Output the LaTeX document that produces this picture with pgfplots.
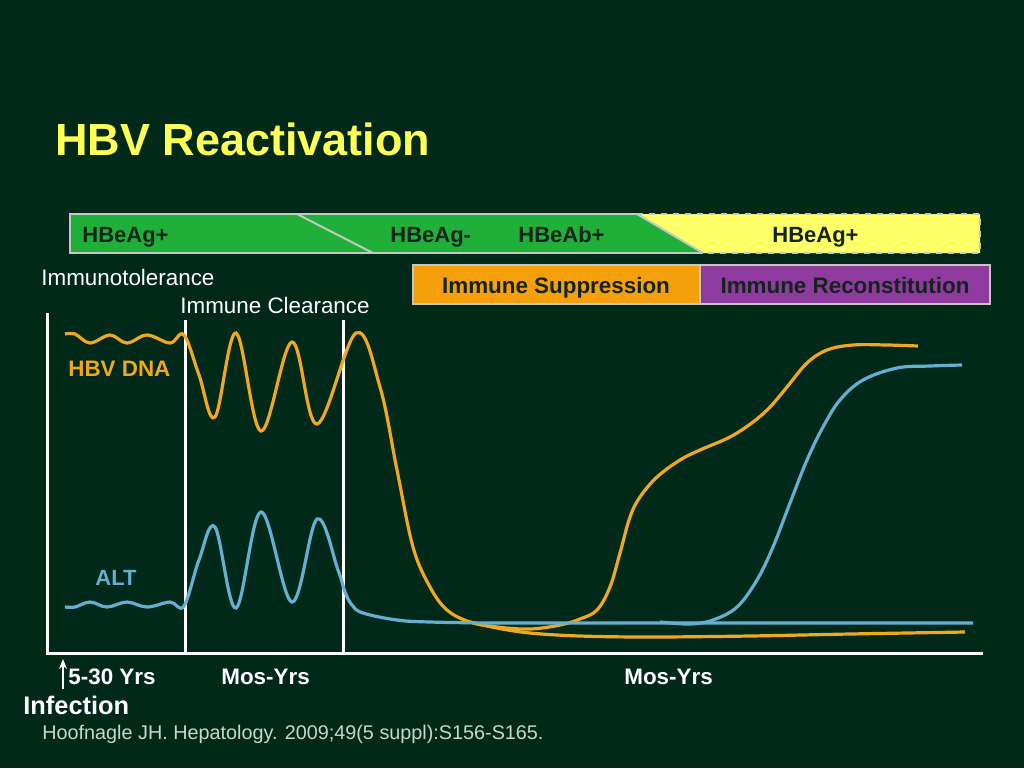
\documentclass[border=0pt]{standalone}
\usepackage{pgfplots}
\pgfplotsset{compat=1.18}
\usepackage{fontspec}
\setmainfont{Liberation Sans}
\usetikzlibrary{arrows.meta}
\definecolor{bg}{RGB}{0,41,26}
\definecolor{bargreen}{RGB}{32,176,58}
\definecolor{baryellow}{RGB}{255,255,102}
\definecolor{boxorange}{RGB}{245,160,10}
\definecolor{boxpurple}{RGB}{142,58,158}
\definecolor{edge}{RGB}{195,200,195}
\definecolor{darktext}{RGB}{18,36,28}
\definecolor{titleyellow}{RGB}{255,255,85}
\definecolor{dnaorange}{RGB}{240,168,30}
\definecolor{altblue}{RGB}{100,175,210}
\definecolor{citegrey}{RGB}{200,214,205}

\begin{document}
\begin{tikzpicture}
\begin{axis}[
    scale only axis,
    width=512pt, height=384pt,
    xmin=0, xmax=1024, ymin=0, ymax=768,
    y dir=reverse,
    hide axis,
    clip=false,
]
% slide background
\fill[bg] (axis cs:0,0) rectangle (axis cs:1024,768);

\node[anchor=base west, inner sep=0, text=titleyellow,
      font=\fontsize{22.5}{27}\selectfont\bfseries] at (axis cs:55,155) {HBV Reactivation};

% serology bar
\fill[bargreen] (axis cs:70,214) -- (axis cs:637,214) -- (axis cs:703,253) -- (axis cs:70,253) -- cycle;
\draw[edge, line width=1pt] (axis cs:637,214) -- (axis cs:70,214) -- (axis cs:70,253) -- (axis cs:703,253);
\draw[edge, line width=1pt] (axis cs:297,214) -- (axis cs:373,253);
\fill[baryellow] (axis cs:637,214) -- (axis cs:980,214) -- (axis cs:980,253) -- (axis cs:703,253) -- cycle;
\draw[edge, line width=1pt] (axis cs:637,214) -- (axis cs:703,253);
\draw[edge, line width=1pt, dashed] (axis cs:637,214) -- (axis cs:980,214) -- (axis cs:980,253) -- (axis cs:703,253);
\node[anchor=base west, inner sep=0, text=darktext, font=\fontsize{11}{13}\selectfont\bfseries] at (axis cs:82,242) {HBeAg+};
\node[anchor=base west, inner sep=0, text=darktext, font=\fontsize{11}{13}\selectfont\bfseries] at (axis cs:390,242) {HBeAg-};
\node[anchor=base west, inner sep=0, text=darktext, font=\fontsize{11}{13}\selectfont\bfseries] at (axis cs:518,242) {HBeAb+};
\node[anchor=base west, inner sep=0, text=darktext, font=\fontsize{11}{13}\selectfont\bfseries] at (axis cs:772,242) {HBeAg+};

% immune phase boxes
\filldraw[fill=boxorange, draw=edge, line width=1pt] (axis cs:413,265) rectangle (axis cs:700,304);
\filldraw[fill=boxpurple, draw=edge, line width=1pt] (axis cs:700,265) rectangle (axis cs:990,304);
\node[anchor=base, inner sep=0, text=darktext, font=\fontsize{11.2}{13}\selectfont\bfseries] at (axis cs:556,293) {Immune Suppression};
\node[anchor=base, inner sep=0, text=darktext, font=\fontsize{11.2}{13}\selectfont\bfseries] at (axis cs:845,293) {Immune Reconstitution};

\node[anchor=base west, inner sep=0, text=white, font=\fontsize{11.2}{13}\selectfont] at (axis cs:41,285) {Immunotolerance};
\node[anchor=base west, inner sep=0, text=white, font=\fontsize{11.2}{13}\selectfont] at (axis cs:180,313) {Immune Clearance};

% frame and phase dividers
\draw[white, line width=1.5pt] (axis cs:47,313) -- (axis cs:47,653) -- (axis cs:983,653);
\draw[white, line width=1.5pt] (axis cs:185,320) -- (axis cs:185,653);
\draw[white, line width=1.5pt] (axis cs:343,320) -- (axis cs:343,653);

% HBV DNA
\addplot[dnaorange, line width=1.6pt, smooth, tension=0.6] coordinates {
(65,334) (75,334) (90,343) (110,335) (127,343) (147,335) (170,343) (184,335)
(199,375) (215,417) (236,333) (261,431) (292,342) (317,424) (356,333)
(380,387) (397,470) (413,547) (430,587) (447,610) (470,622) (497,627)
(530,629) (560,625) (580,619) (597,610) (610,587) (620,553) (630,517)
(640,497) (657,477) (680,460) (700,450) (730,437) (753,422) (770,407)
(787,387) (807,363) (827,350) (853,345) (887,345) (918,346)
};
\addplot[dnaorange, line width=1.6pt, smooth, tension=0.6] coordinates {
(470,622) (497,628) (530,633) (580,636) (650,637) (750,636) (850,634) (965,632)
};

% ALT
\addplot[altblue, line width=1.6pt, smooth, tension=0.6] coordinates {
(65,607) (75,607) (90,602) (107,607) (127,602) (147,607) (170,602) (184,606)
(199,560) (215,527) (236,608) (261,512) (292,602) (317,519) (338,570)
(345,592) (352,605) (363,613) (397,620) (430,622) (497,623) (600,623)
(800,623) (973,623)
};
\addplot[altblue, line width=1.6pt, smooth, tension=0.6] coordinates {
(660,622) (690,624) (713,620) (737,607) (757,580) (773,547) (790,503)
(807,460) (823,427) (840,400) (863,380) (897,368) (930,366) (962,365)
};

\node[anchor=base west, inner sep=0, text=dnaorange, font=\fontsize{11.2}{13}\selectfont\bfseries] at (axis cs:68,376) {HBV DNA};
\node[anchor=base west, inner sep=0, text=altblue, font=\fontsize{11}{13}\selectfont\bfseries] at (axis cs:95,585) {ALT};

% time axis notes
\draw[white, line width=1.2pt, -{Stealth[length=5pt, width=4pt]}] (axis cs:63,689) -- (axis cs:63,659);
\node[anchor=base west, inner sep=0, text=white, font=\fontsize{11.2}{13}\selectfont\bfseries] at (axis cs:68,684) {5-30 Yrs};
\node[anchor=base west, inner sep=0, text=white, font=\fontsize{11.2}{13}\selectfont\bfseries] at (axis cs:221,684) {Mos-Yrs};
\node[anchor=base west, inner sep=0, text=white, font=\fontsize{11.2}{13}\selectfont\bfseries] at (axis cs:624,684) {Mos-Yrs};
\node[anchor=base west, inner sep=0, text=white, font=\fontsize{12.7}{15}\selectfont\bfseries] at (axis cs:23,714) {Infection};
\node[anchor=base west, inner sep=0, text=citegrey, font=\fontsize{9.9}{12}\selectfont] at (axis cs:42,739) {Hoofnagle JH. Hepatology. 2009;49(5 suppl):S156-S165.};
\end{axis}
\end{tikzpicture}
\end{document}
